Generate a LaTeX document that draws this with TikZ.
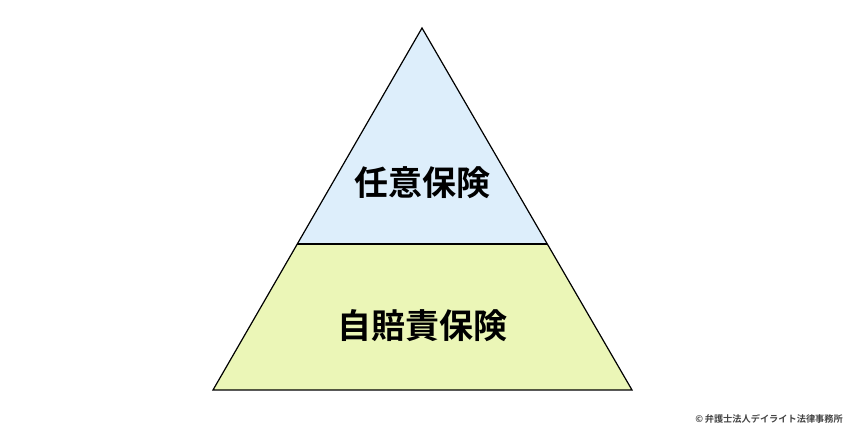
\documentclass[tikz,border=0pt]{standalone}
\usepackage{fontspec}
\usepackage{xcolor}
\usepackage{tikz}
\usetikzlibrary{positioning, calc}
\newfontfamily\cjk{Noto Sans CJK JP Bold}
\newfontfamily\cjkbold{Noto Sans CJK JP Bold}
\definecolor{paleblue}{HTML}{DDEEFB}
\definecolor{palegreen}{HTML}{EBF6B7}
\definecolor{notegray}{HTML}{444444}

\begin{document}
\begin{tikzpicture}[x=1pt, y=1pt, every node/.style={inner sep=0pt}]
	\useasboundingbox (0,0) rectangle (850,430);
	\pgfmathsetmacro{\apexx}{422}
	\pgfmathsetmacro{\apexy}{402}
	\pgfmathsetmacro{\basey}{40}
	\pgfmathsetmacro{\midy}{186}
	\coordinate (apex) at (\apexx,\apexy);
	\coordinate (bl) at (213,\basey);
	\coordinate (br) at (632,\basey);
	\coordinate (ml) at ($(apex)!{(\apexy-\midy)/(\apexy-\basey)}!(bl)$);
	\coordinate (mr) at ($(apex)!{(\apexy-\midy)/(\apexy-\basey)}!(br)$);
	\fill[paleblue] (apex) -- (ml) -- (mr) -- cycle;
	\fill[palegreen] (ml) -- (bl) -- (br) -- (mr) -- cycle;
	\draw[black, line width=1.2pt, line join=miter] (apex) -- (bl) -- (br) -- cycle;
	\draw[black, line width=1.2pt] (ml) -- (mr);
	\node (nin) at (\apexx,247) {\cjkbold\fontsize{34}{34}\selectfont 任意保険};
	\node (jibai) at (\apexx,104) {\cjkbold\fontsize{34}{34}\selectfont 自賠責保険};
	\node[anchor=east, text=notegray] (credit) at (843,11) {\cjk\fontsize{9.2}{9.2}\selectfont ©\,弁護士法人デイライト法律事務所};
\end{tikzpicture}
\end{document}
